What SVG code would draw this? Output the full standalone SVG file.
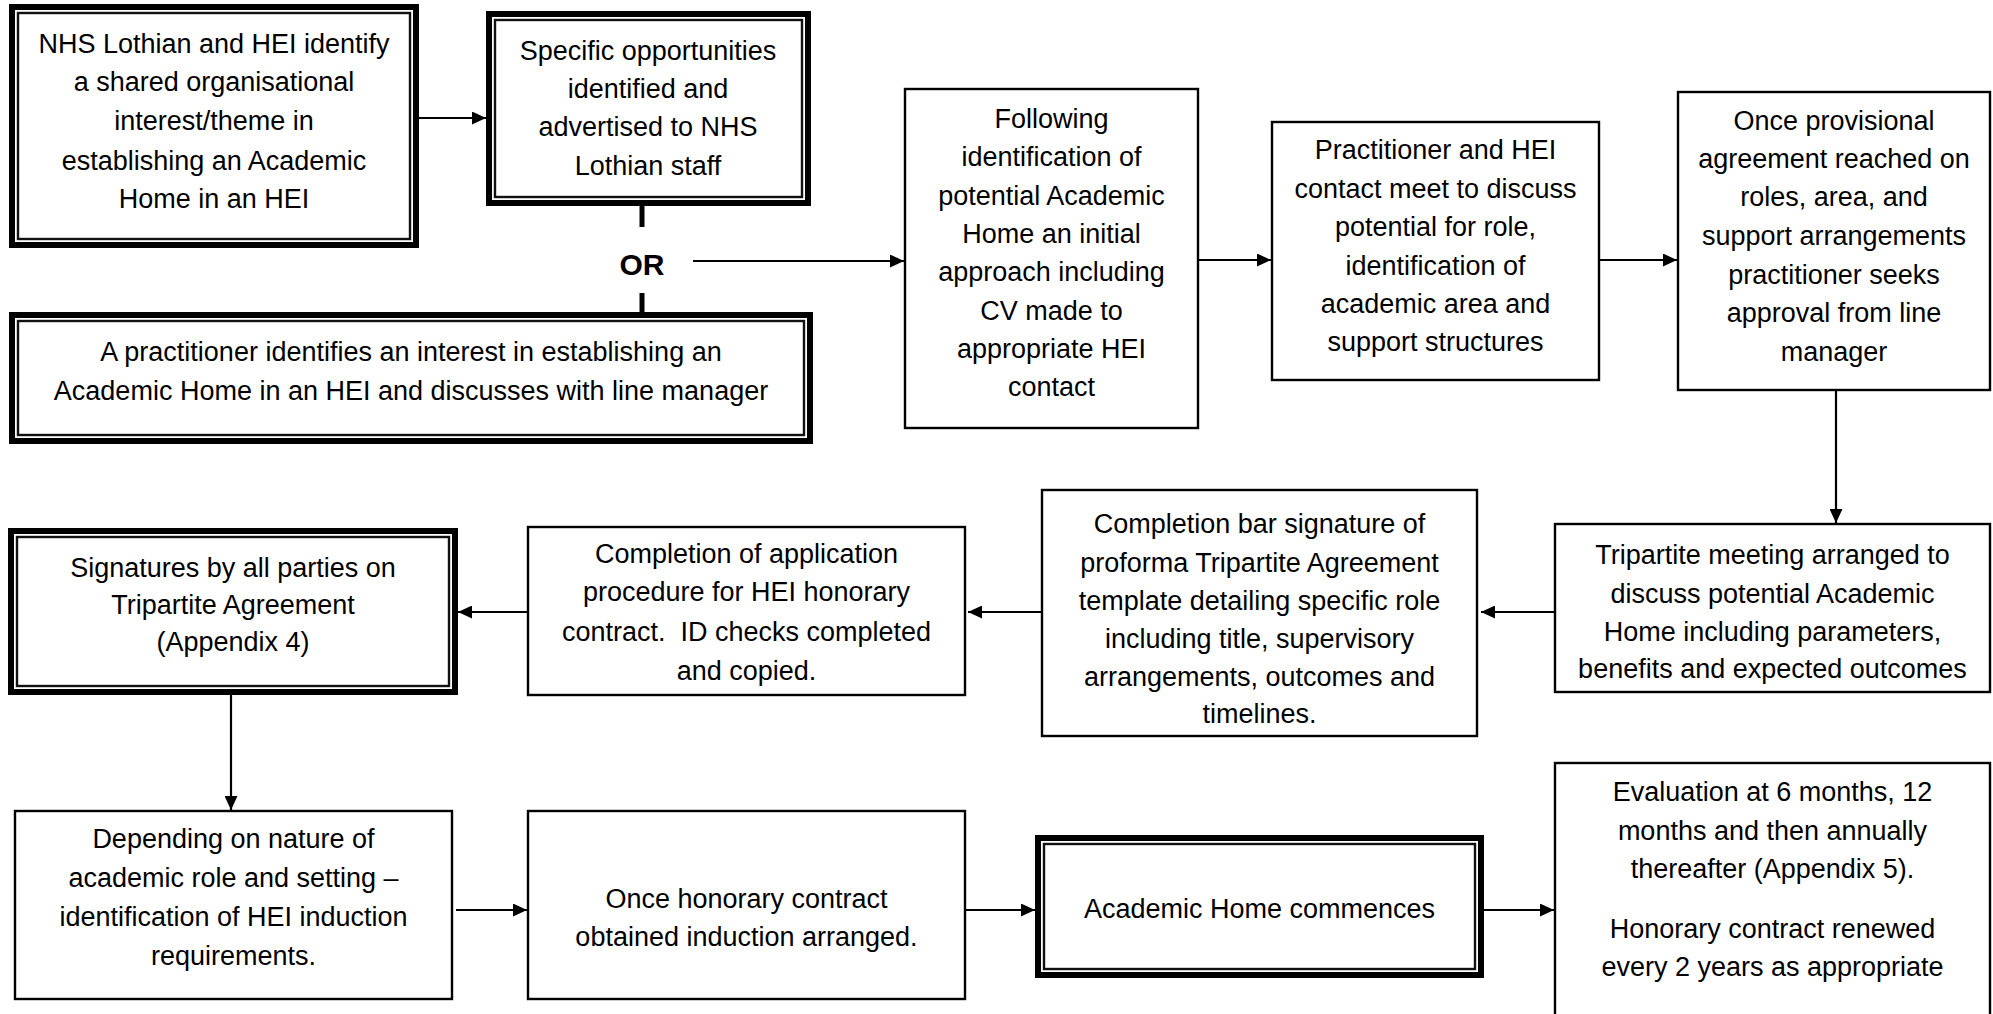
<svg xmlns="http://www.w3.org/2000/svg" width="1993" height="1014" viewBox="0 0 1993 1014">
<style>
.t{font-family:"Liberation Sans",Arial,sans-serif;font-size:27px;fill:#000;text-anchor:middle}
.or{font-family:"Liberation Sans",Arial,sans-serif;font-size:30px;font-weight:bold;fill:#000;text-anchor:middle}
.box{fill:#fff;stroke:#000;stroke-width:2.4}
.thick{fill:#fff;stroke:#000;stroke-width:6}
.thin{fill:none;stroke:#111;stroke-width:2.4}
.c{fill:none;stroke:#000;stroke-width:2.2}
.cb{fill:none;stroke:#000;stroke-width:5}
</style>
<defs>
<marker id="ah" markerWidth="14" markerHeight="13" refX="14" refY="6.5" orient="auto" markerUnits="userSpaceOnUse">
<path d="M0,0 L14,6.5 L0,13 z" fill="#000"/>
</marker>
</defs>
<rect width="1993" height="1014" fill="#fff"/>

<g id="connectors">
<line class="c" x1="419" y1="118" x2="486" y2="118" marker-end="url(#ah)"/>
<line class="cb" x1="642" y1="206" x2="642" y2="227"/>
<line class="cb" x1="642" y1="293" x2="642" y2="312"/>
<line class="c" x1="693" y1="261" x2="904" y2="261" marker-end="url(#ah)"/>
<line class="c" x1="1199" y1="260" x2="1271" y2="260" marker-end="url(#ah)"/>
<line class="c" x1="1600" y1="260" x2="1677" y2="260" marker-end="url(#ah)"/>
<line class="c" x1="1836" y1="391" x2="1836" y2="523" marker-end="url(#ah)"/>
<line class="c" x1="1554" y1="612" x2="1481" y2="612" marker-end="url(#ah)"/>
<line class="c" x1="1041" y1="612" x2="968" y2="612" marker-end="url(#ah)"/>
<line class="c" x1="527" y1="612" x2="458" y2="612" marker-end="url(#ah)"/>
<line class="c" x1="231" y1="695" x2="231" y2="810" marker-end="url(#ah)"/>
<line class="c" x1="456" y1="910" x2="527" y2="910" marker-end="url(#ah)"/>
<line class="c" x1="966" y1="910" x2="1035" y2="910" marker-end="url(#ah)"/>
<line class="c" x1="1484" y1="910" x2="1554" y2="910" marker-end="url(#ah)"/>
</g>

<g id="n1">
<rect class="thick" x="12" y="7" width="404" height="238"/>
<rect class="thin" x="18" y="13" width="392" height="226"/>
<text class="t" x="214" y="53">NHS Lothian and HEI identify</text>
<text class="t" x="214" y="91">a shared organisational</text>
<text class="t" x="214" y="130">interest/theme in</text>
<text class="t" x="214" y="170">establishing an Academic</text>
<text class="t" x="214" y="208">Home in an HEI</text>
</g>

<g id="n2">
<rect class="thick" x="489" y="14" width="319" height="189"/>
<rect class="thin" x="495" y="20" width="307" height="177"/>
<text class="t" x="648" y="60">Specific opportunities</text>
<text class="t" x="648" y="98">identified and</text>
<text class="t" x="648" y="136">advertised to NHS</text>
<text class="t" x="648" y="175">Lothian staff</text>
</g>

<g id="or">
<text class="or" x="642" y="275">OR</text>
</g>

<g id="n3">
<rect class="thick" x="12" y="315" width="798" height="126"/>
<rect class="thin" x="18" y="321" width="786" height="114"/>
<text class="t" x="411" y="361">A practitioner identifies an interest in establishing an</text>
<text class="t" x="411" y="400">Academic Home in an HEI and discusses with line manager</text>
</g>

<g id="n4">
<rect class="box" x="905" y="89" width="293" height="339"/>
<text class="t" x="1051.5" y="128">Following</text>
<text class="t" x="1051.5" y="166">identification of</text>
<text class="t" x="1051.5" y="205">potential Academic</text>
<text class="t" x="1051.5" y="243">Home an initial</text>
<text class="t" x="1051.5" y="281">approach including</text>
<text class="t" x="1051.5" y="320">CV made to</text>
<text class="t" x="1051.5" y="358">appropriate HEI</text>
<text class="t" x="1051.5" y="396">contact</text>
</g>

<g id="n5">
<rect class="box" x="1272" y="122" width="327" height="258"/>
<text class="t" x="1435.5" y="159">Practitioner and HEI</text>
<text class="t" x="1435.5" y="198">contact meet to discuss</text>
<text class="t" x="1435.5" y="236">potential for role,</text>
<text class="t" x="1435.5" y="275">identification of</text>
<text class="t" x="1435.5" y="313">academic area and</text>
<text class="t" x="1435.5" y="351">support structures</text>
</g>

<g id="n6">
<rect class="box" x="1678" y="92" width="312" height="298"/>
<text class="t" x="1834" y="130">Once provisional</text>
<text class="t" x="1834" y="168">agreement reached on</text>
<text class="t" x="1834" y="206">roles, area, and</text>
<text class="t" x="1834" y="245">support arrangements</text>
<text class="t" x="1834" y="284">practitioner seeks</text>
<text class="t" x="1834" y="322">approval from line</text>
<text class="t" x="1834" y="361">manager</text>
</g>

<g id="n7">
<rect class="box" x="1555" y="524" width="435" height="168"/>
<text class="t" x="1772.5" y="564">Tripartite meeting arranged to</text>
<text class="t" x="1772.5" y="603">discuss potential Academic</text>
<text class="t" x="1772.5" y="641">Home including parameters,</text>
<text class="t" x="1772.5" y="678">benefits and expected outcomes</text>
</g>

<g id="n8">
<rect class="box" x="1042" y="490" width="435" height="246"/>
<text class="t" x="1259.5" y="533">Completion bar signature of</text>
<text class="t" x="1259.5" y="572">proforma Tripartite Agreement</text>
<text class="t" x="1259.5" y="610">template detailing specific role</text>
<text class="t" x="1259.5" y="648">including title, supervisory</text>
<text class="t" x="1259.5" y="686">arrangements, outcomes and</text>
<text class="t" x="1259.5" y="723">timelines.</text>
</g>

<g id="n9">
<rect class="box" x="528" y="527" width="437" height="168"/>
<text class="t" x="746.5" y="563">Completion of application</text>
<text class="t" x="746.5" y="601">procedure for HEI honorary</text>
<text class="t" x="746.5" y="641" xml:space="preserve">contract.  ID checks completed</text>
<text class="t" x="746.5" y="680">and copied.</text>
</g>

<g id="n10">
<rect class="thick" x="11" y="531" width="444" height="161"/>
<rect class="thin" x="17" y="537" width="432" height="149"/>
<text class="t" x="233" y="577">Signatures by all parties on</text>
<text class="t" x="233" y="614">Tripartite Agreement</text>
<text class="t" x="233" y="651">(Appendix 4)</text>
</g>

<g id="n11">
<rect class="box" x="15" y="811" width="437" height="188"/>
<text class="t" x="233.5" y="848">Depending on nature of</text>
<text class="t" x="233.5" y="887">academic role and setting –</text>
<text class="t" x="233.5" y="926">identification of HEI induction</text>
<text class="t" x="233.5" y="965">requirements.</text>
</g>

<g id="n12">
<rect class="box" x="528" y="811" width="437" height="188"/>
<text class="t" x="746.5" y="908">Once honorary contract</text>
<text class="t" x="746.5" y="946">obtained induction arranged.</text>
</g>

<g id="n13">
<rect class="thick" x="1038" y="838" width="443" height="137"/>
<rect class="thin" x="1044" y="844" width="431" height="125"/>
<text class="t" x="1259.5" y="918">Academic Home commences</text>
</g>

<g id="n14">
<rect class="box" x="1555" y="763" width="435" height="300"/>
<text class="t" x="1772.5" y="801">Evaluation at 6 months, 12</text>
<text class="t" x="1772.5" y="840">months and then annually</text>
<text class="t" x="1772.5" y="878">thereafter (Appendix 5).</text>
<text class="t" x="1772.5" y="938">Honorary contract renewed</text>
<text class="t" x="1772.5" y="976">every 2 years as appropriate</text>
</g>
</svg>
